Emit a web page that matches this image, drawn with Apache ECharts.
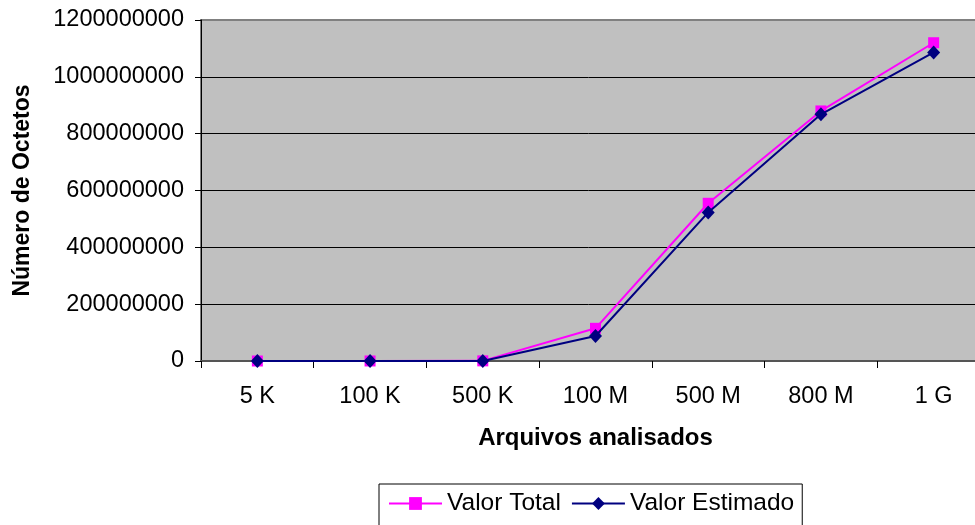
<!DOCTYPE html>
<html>
<head>
<meta charset="utf-8">
<script src="https://cdn.jsdelivr.net/npm/echarts@6/dist/echarts.min.js"></script>
<style>
  html, body { margin: 0; padding: 0; background: #fff; }
  #chart { width: 975px; height: 525px; }
</style>
</head>
<body>
<div id="chart"></div>
<script>
// Processed file sizes and byte counts
const categories = ['5 K', '100 K', '500 K', '100 M', '500 M', '800 M', '1 G'];
const valorTotal = [5000, 100000, 500000, 115000000, 555000000, 880000000, 1120000000];
const valorEstimado = [2000, 60000, 300000, 88000000, 523000000, 868000000, 1086000000];
const yTicks = { min: 0, max: 1200000000, interval: 200000000 };

const FONT = '"Liberation Sans", Arial, sans-serif';
const chart = echarts.init(document.getElementById('chart'), null, { renderer: 'canvas' });

chart.setOption({
  animation: false,
  backgroundColor: '#ffffff',
  textStyle: { fontFamily: FONT },
  grid: {
    left: 201, top: 20, width: 789, height: 341,
    containLabel: false,
    outerBoundsMode: 'none',
    show: true,
    backgroundColor: '#C0C0C0',
    borderColor: '#808080',
    borderWidth: 2
  },
  legend: {
    left: 379,
    top: 484,
    orient: 'horizontal',
    padding: [7, 8, 12, 9],
    itemGap: 10,
    itemWidth: 53,
    itemHeight: 16,
    borderColor: '#000',
    borderWidth: 1,
    borderRadius: 0,
    textStyle: { fontFamily: FONT, fontSize: 24.5, color: '#000', padding: [0, 0, 0, 0] },
    data: ['Valor Total', 'Valor Estimado']
  },
  xAxis: {
    type: 'category',
    data: categories,
    boundaryGap: true,
    name: 'Arquivos analisados',
    nameLocation: 'middle',
    nameGap: 65,
    nameTextStyle: { fontFamily: FONT, fontSize: 24, fontWeight: 'bold', color: '#000' },
    axisLine: { show: true, lineStyle: { color: '#555', width: 2 } },
    axisTick: { show: true, inside: false, length: 7, lineStyle: { color: '#000', width: 1 } },
    axisLabel: { margin: 24, fontFamily: FONT, fontSize: 23.5, color: '#000' },
    splitLine: { show: false }
  },
  yAxis: {
    type: 'value',
    min: yTicks.min,
    max: yTicks.max,
    interval: yTicks.interval,
    name: 'Número de Octetos',
    nameLocation: 'middle',
    nameGap: 167,
    nameTextStyle: { fontFamily: FONT, fontSize: 23, fontWeight: 'bold', color: '#000' },
    axisLine: { show: true, lineStyle: { color: '#000', width: 1 } },
    axisTick: { show: true, inside: false, length: 6, lineStyle: { color: '#000', width: 1 } },
    axisLabel: {
      margin: 17, fontFamily: FONT, fontSize: 23.5, color: '#000',
      formatter: (v) => String(v)
    },
    splitLine: {
      show: true,
      lineStyle: { color: ['#555', '#000', '#000', '#000', '#000', '#000', '#808080'], width: 1 }
    }
  },
  series: [
    {
      name: 'Valor Total',
      type: 'line',
      data: valorTotal,
      symbol: 'rect',
      symbolSize: 11,
      lineStyle: { color: '#FF00FF', width: 2 },
      itemStyle: { color: '#FF00FF' },
      z: 2
    },
    {
      name: 'Valor Estimado',
      type: 'line',
      data: valorEstimado,
      symbol: 'diamond',
      symbolSize: [13, 14],
      lineStyle: { color: '#000080', width: 2 },
      itemStyle: { color: '#000080' },
      z: 3
    }
  ]
});
</script>
</body>
</html>
